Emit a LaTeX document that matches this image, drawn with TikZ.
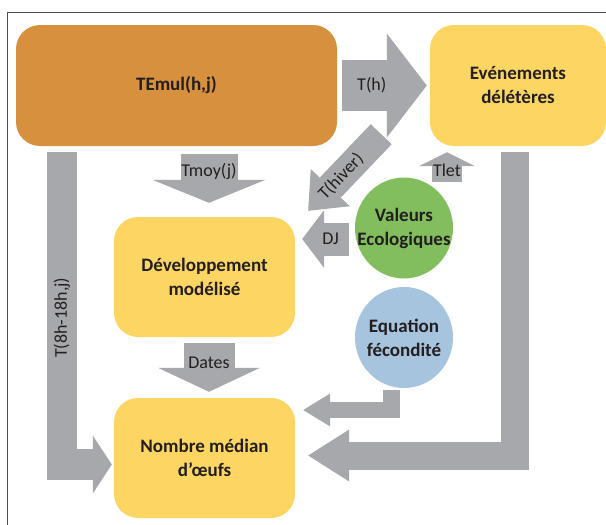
\documentclass[tikz,border=0pt]{standalone}
\usepackage{fontspec}
\setmainfont{Carlito}
\usetikzlibrary{arrows.meta,shapes.geometric}
\definecolor{brun}{RGB}{214,144,62}
\definecolor{jaune}{RGB}{253,213,98}
\definecolor{vert}{RGB}{130,190,93}
\definecolor{bleu}{RGB}{166,196,221}
\definecolor{gris}{RGB}{167,168,172}
\definecolor{encre}{RGB}{35,31,32}
\tikzset{
  titre/.style={text=encre, font=\fontsize{19}{24}\selectfont\bfseries, align=center},
  boite/.style={titre, rounded corners=24pt, minimum width=#1, minimum height=120pt, inner sep=0pt},
  bulle/.style={ellipse, minimum width=98pt, minimum height=101pt, inner sep=0pt, label={[titre]center:#1}},
  fleche/.style n args={3}{draw=gris, line width=#1, -{Triangle[width=#2, length=#3, line width=0pt]}},
  etiq/.style={text=encre, font=\fontsize{18}{20}\selectfont, inner sep=0pt}
}
\begin{document}
\begin{tikzpicture}[x=1pt,y=-1pt]
	%\draw[help lines] (0,0) grid[step=50] (606,525);
	\useasboundingbox (0,0) rectangle (606,525);
	\draw[line width=1pt, draw=black!70] (7,525) |- (606,12.5);
	\node[boite=321pt, minimum height=121pt, fill=brun] (temul) at (176.5,85.5) {TEmul(h,j)};
	\node[boite=176pt, minimum height=121pt, fill=jaune] (even) at (518,85.5) {Evénements\\délétères};
	\node[boite=181pt, fill=jaune] (dev) at (204.5,277) {Développement\\modélisé};
	\node[boite=181pt, fill=jaune] (nombre) at (204.5,458) {Nombre médian\\d’œufs};
	\node[bulle={Valeurs\\Ecologiques}, fill=vert] (valeurs) at (404,228) {};
	\node[bulle={Equation\\fécondité}, fill=bleu] (equation) at (404,337.5) {};
	\draw[fleche={51pt}{104pt}{40pt}] ([shift={(5,0)}]temul.east) -- node[etiq, pos=0.35]{T(h)} ([shift={(-3,0)}]even.west);
	\draw[fleche={29pt}{54pt}{32pt}] ([shift={(44,-12)}]temul.south east) -- node[etiq, sloped, pos=0.55]{T(hiver)} ([shift={(13,-6)}]dev.north east);
	\draw[fleche={30.5pt}{58pt}{19pt}] ([shift={(46,6)}]temul.south west) |- node[etiq, pos=0.265, rotate=90]{T(8h-18h,j)} ([shift={(-2,6.5)}]nombre.west);
	\draw[fleche={57pt}{113pt}{23pt}] ([shift={(32.5,8)}]temul.south) -- node[etiq, pos=0.36]{Tmoy(j)} ([shift={(4.5,-14)}]dev.north);
	\draw[fleche={51pt}{102pt}{24pt}] ([shift={(4.5,6)}]dev.south) -- node[etiq, pos=0.41]{Dates} ([shift={(4.5,-6)}]nombre.north);
	\draw[fleche={33pt}{58pt}{22pt}] ([shift={(-6,11)}]valeurs.west) -- node[etiq, pos=0.39]{DJ} ([shift={(7,-38)}]dev.east);
	\draw[fleche={30pt}{56pt}{14pt}] ([shift={(43,4.5)}]valeurs.north) -- node[etiq, pos=0.38]{Tlet} ([shift={(-71,6)}]even.south);
	\draw[fleche={16.5pt}{33pt}{27pt}] ([shift={(-12.5,2)}]equation.south) |- ([shift={(8,-48)}]nombre.east);
	\draw[fleche={28pt}{52pt}{41pt}] ([shift={(-3.5,6)}]even.south) |- ([shift={(13,-2.5)}]nombre.east);
\end{tikzpicture}
\end{document}
